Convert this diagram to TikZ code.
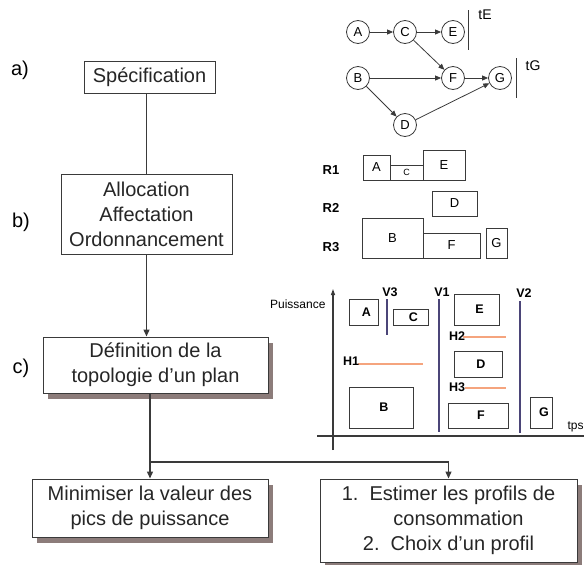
\documentclass[tikz,border=0pt]{standalone}
\usepackage{fontspec}
\setmainfont{Liberation Sans}
\usetikzlibrary{arrows.meta,shadows}

\definecolor{linegray}{HTML}{3A3A3A}
\definecolor{shadowgray}{HTML}{8C7C7A}
\definecolor{vline}{HTML}{4B4578}
\definecolor{hline}{HTML}{F5A47E}

\newcommand{\boxfont}{\fontsize{20}{25}\selectfont}
\newcommand{\circfont}{\fontsize{13}{15}\selectfont}
\newcommand{\slotfont}{\fontsize{13}{15}\selectfont}
\newcommand{\chartfont}{\fontsize{12.5}{14}\selectfont\bfseries}

\tikzset{
	stepbox/.style={draw=linegray,line width=1pt,fill=white,align=center,inner sep=0pt,font=\boxfont,text=black!85},
	shadowbox/.style={stepbox,drop shadow={shadow xshift=5pt,shadow yshift=-6pt,fill=shadowgray,opacity=1}},
	flow/.style={draw=linegray,line width=1.3pt},
	arr/.style={-{Triangle[length=7pt,width=6pt]}},
	task/.style={circle,draw=linegray,line width=0.8pt,minimum size=23pt,inner sep=0pt,font=\circfont},
	dep/.style={draw=linegray,line width=0.8pt,-{Triangle[length=6pt,width=5pt]}},
	slot/.style={draw=linegray,line width=0.9pt,inner sep=0pt,font=\slotfont},
	block/.style={draw=linegray,line width=1pt,inner sep=0pt,font=\chartfont},
}

\begin{document}
\begin{tikzpicture}[x=1pt,y=-1pt]
	\useasboundingbox (0,0) rectangle (584,565);
	%STEPS
	\node[font=\boxfont] (la) at (20,70) {a)};
	\node[font=\boxfont] (lb) at (21,222) {b)};
	\node[font=\boxfont] (lc) at (21,368) {c)};
	%
	\node[stepbox,minimum width=131pt,minimum height=32pt] (spec) at (149.5,77) {Spécification};
	\node[stepbox,minimum width=171pt,minimum height=80pt] (alloc) at (146.5,214) {Allocation\\Affectation\\Ordonnancement};
	\node[shadowbox,minimum width=225pt,minimum height=56pt] (topo) at (155.5,365) {Définition de la\\topologie d’un plan};
	\node[shadowbox,minimum width=236pt,minimum height=58pt] (mini) at (150,508) {Minimiser la valeur des\\pics de puissance};
	\node[shadowbox,minimum width=257pt,minimum height=83pt] (profil) at (448.5,520.5) {1.~~Estimer les profils de\\\hspace*{20pt}consommation\\2.~~Choix d’un profil};
	%
	\coordinate (split) at (150,462);
	\draw[flow] (spec.south -| alloc.north) -- (alloc.north);
	\draw[flow,arr] (alloc.south) -- (alloc.south |- topo.north);
	\draw[flow] (split |- topo.south) -- (split);
	\draw[flow,arr] (split) -- (mini.north);
	\draw[flow,arr] (split) -| (profil.north);

	%GRAPH
	\node[task] (A) at (358,32) {A};
	\node[task] (C) at (405,32) {C};
	\node[task] (E) at (453,32) {E};
	\node[task] (B) at (358,78) {B};
	\node[task] (F) at (453,78) {F};
	\node[task] (G) at (500,78) {G};
	\node[task] (D) at (405,125) {D};
	\foreach \a/\b in {A/C,C/E,C/F,B/F,B/D,F/G,D/G}
		\draw[dep] (\a) -- (\b);
	\draw[linegray,line width=1pt] (468,10) -- (468,50);
		\node[font=\fontsize{14}{16}\selectfont] (tE) at (485,15) {tE};
	\draw[linegray,line width=1pt] (516,58) -- (516,98);
		\node[font=\fontsize{14}{16}\selectfont] (tG) at (533,66) {tG};

	%RESOURCES
	\foreach \r/\y in {1/170,2/208,3/247}
		\node[font=\fontsize{13}{15}\selectfont\bfseries] (R\r) at (331,\y) {R\r};
	\foreach \n/\x/\y/\w/\h in {A/376.5/167.5/27/25, E/444/165/42/30, D/454.5/203.5/45/25, B/392.5/238/61/40, F/451.5/245.5/57/25, G/496.5/243/21/30}
		\node[slot,minimum width=\w pt,minimum height=\h pt] (s\n) at (\x,\y) {\n};
	\node[slot,minimum width=33pt,minimum height=15pt,font=\fontsize{9}{10}\selectfont] (sC) at (406.5,172.5) {C};

	%CHART
	\draw[linegray,line width=1.2pt,-{Triangle[length=6pt,width=4pt]}] (333,450) -- (333,289);
	\draw[linegray,line width=1.2pt] (317,436) -- (584,436);
	\node[anchor=east,font=\fontsize{12}{14}\selectfont] (pw) at (329,304) {Puissance};
	\node[anchor=west,font=\fontsize{12}{14}\selectfont] (tps) at (564,427) {tps};
	\foreach \n/\x/\y/\w/\h in {A/363.5/312/29/26, C/410.5/317/35/16, E/476.5/309.5/45/31, D/478/364/48/26, B/381/407.5/64/41, F/478/415.5/60/25, G/541/412.5/22/31}
		\node[block,minimum width=\w pt,minimum height=\h pt,text width=\w pt,align=center] (c\n) at (\x,\y) {\hspace*{6pt}\n};
	%
	\draw[vline,line width=1.5pt] (387,299) -- (387,335);
	\draw[vline,line width=1.5pt] (439,299) -- (439,432);
	\draw[vline,line width=1.5pt] (520,301) -- (520,433);
	\node[font=\chartfont] (V3) at (390,292) {V3};
	\node[font=\chartfont] (V1) at (442,292) {V1};
	\node[font=\chartfont] (V2) at (524,293) {V2};
	%
	\draw[hline,line width=1.5pt] (358,364) -- (423,364);
	\draw[hline,line width=1.5pt] (463,337) -- (506,337);
	\draw[hline,line width=1.5pt] (465,388) -- (506,388);
	\node[font=\chartfont] (H1) at (351,361) {H1};
	\node[font=\chartfont] (H2) at (457,336) {H2};
	\node[font=\chartfont] (H3) at (457,387) {H3};
\end{tikzpicture}
\end{document}
